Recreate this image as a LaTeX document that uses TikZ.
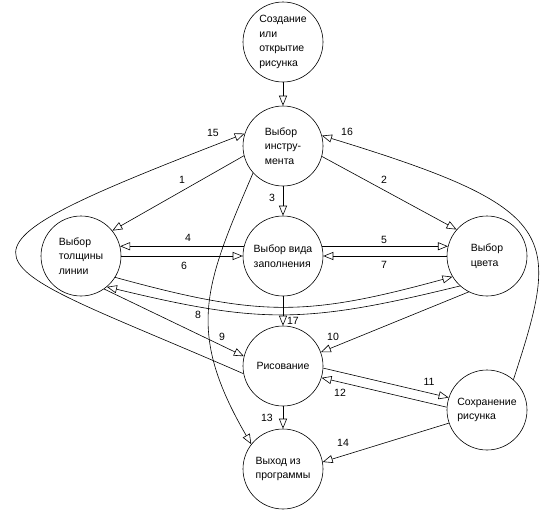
\documentclass[tikz,border=0pt]{standalone}
\usepackage{fontspec}
\setmainfont{Liberation Sans}
\usetikzlibrary{arrows.meta}
\begin{document}
\begin{tikzpicture}[x=1pt,y=-1pt,line width=0.6pt,
  font=\fontsize{10.5}{14.5}\selectfont,
  state/.style={circle,draw,minimum size=80pt,inner sep=0pt,align=left},
  arr/.style={-{Triangle[open,length=10pt,width=8pt]}}]
\useasboundingbox (0,0) rectangle (547,514);

\node[state] (create) at (283,42) {Создание\\или\\открытие\\рисунка};
\node[state] (tool) at (283,146) {Выбор\\инстру-\\мента};
\node[state] (thick) at (81,256) {Выбор\\толщины\\линии};
\node[state] (fill) at (283,256) {Выбор вида\\заполнения};
\node[state] (color) at (487,256) {Выбор\\цвета};
\node[state] (paint) at (283,366) {Рисование};
\node[state] (save) at (487,410) {Сохранение\\рисунка};
\node[state] (exit) at (283,469) {Выход из\\программы};

\draw[arr] (create) -- (tool);
\draw[arr] (tool.194) -- (thick.39);
\draw[arr] (tool.-15) -- (color.139);
\draw[arr] (tool) -- (fill);
\draw[arr] (fill.166) -- (thick.14);
\draw[arr] (fill.14) -- (color.166);
\draw[arr] (thick) -- (fill);
\draw[arr] (color) -- (fill);
\draw[arr] (thick.-32) .. controls (260,317) and (305,317) .. (color.211);
\draw[arr] (color.228) .. controls (305,324) and (261,324) .. (thick.-50);
\draw[arr] (thick.-55) -- (paint.166);
\draw[arr] (tool.222) .. controls (205,285) and (185,330) .. (exit.142);
\draw[arr] (color.243) -- (paint.20);
\draw[arr] (paint.-3) -- (save.162);
\draw[arr] (save.176) -- (paint.-17);
\draw[arr] (paint) -- (exit);
\draw[arr] (save.199) -- (exit.10);
\draw[arr] (paint.191) .. controls (-28,255) and (-88,262) .. (tool.162);
\draw[arr] (save.49) .. controls (561,234) and (562,209) .. (tool.15);
\draw[arr] (fill) -- (paint);

\foreach \n/\x/\y in {1/182/180,2/384/180,3/272/198,4/188/238,5/384/240,
  6/184/266,7/384/265,8/198/315,9/222/337,10/333/337,11/429/382,
  12/340/393,13/267/418,14/343/443,15/213/133,16/347/132,17/293/321}
\node (lab\n) at (\x,\y) {\n};

\end{tikzpicture}
\end{document}
